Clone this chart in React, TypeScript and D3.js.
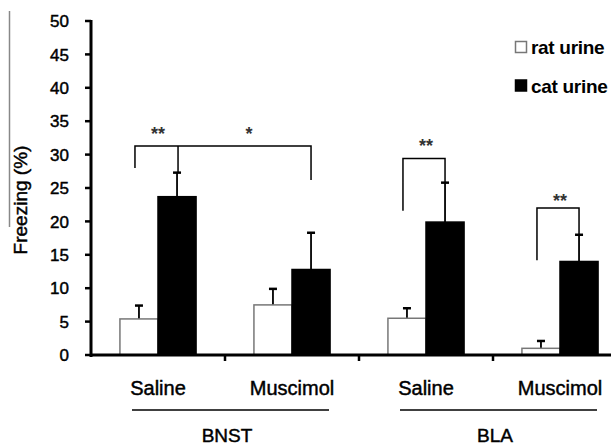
import React from 'react';
import * as d3 from 'd3';

const groups = ['BNST-Saline', 'BNST-Muscimol', 'BLA-Saline', 'BLA-Muscimol'];
const groupLabels = ['Saline', 'Muscimol', 'Saline', 'Muscimol'];
const series = ['rat urine', 'cat urine'];
const ratMeans = [5.4, 7.5, 5.5, 1.0];
const ratErrors = [2.0, 2.4, 1.5, 1.1];
const catMeans = [23.7, 12.8, 19.9, 14.0];
const catErrors = [3.6, 5.5, 5.9, 4.0];
const yTicks = [0, 5, 10, 15, 20, 25, 30, 35, 40, 45, 50];
const regions = ['BNST', 'BLA'];

// significance brackets: [group, series] of each foot, top level and foot bottoms (in %)
const brackets = [
  { from: [0, 0], to: [1, 1], mid: [0, 1], top: 31.3, fromBottom: 28.0, toBottom: 26.2, midBottom: 27.3 },
  { from: [2, 0], to: [2, 1], top: 29.4, fromBottom: 21.6, toBottom: 25.8 },
  { from: [3, 0], to: [3, 1], top: 22.0, fromBottom: 14.2, toBottom: 18.0 },
];

const width = 611;
const height = 446;
const font = '"Liberation Sans", Arial, sans-serif';
// scanned figure: text looks a bit heavier than plain regular
const heavy = { stroke: '#000', strokeWidth: 0.45 };

export default function App() {
  const y = d3.scaleLinear().domain([0, 50]).range([355, 21]);
  const x0 = d3.scaleBand().domain(groups).range([91, 627]);
  const x1 = d3.scaleBand().domain(series).range([0, x0.bandwidth()]).paddingOuter(0.76);
  const bw = x1.bandwidth();

  const cx = (g: number, s: number) => (x0(groups[g]) as number) + (x1(series[s]) as number) + bw / 2;
  const capW = 8;

  const bars: any[] = [];
  groups.forEach((g, i) => {
    bars.push({ g: i, s: 0, v: ratMeans[i], e: ratErrors[i] });
    bars.push({ g: i, s: 1, v: catMeans[i], e: catErrors[i] });
  });

  return (
    <svg width={width} height={height} style={{ position: 'absolute', left: 0, top: 0, background: '#fff' }}>
      <line x1={9.5} x2={9.5} y1={11} y2={227} stroke="#888" strokeWidth={1.5} />
      <text transform={`translate(27,200) rotate(-90)`} textAnchor="middle" fontFamily={font} fontSize={19} fill="#000" {...heavy}>
        Freezing (%)
      </text>

      {bars.map((b, i) => {
        const left = cx(b.g, b.s) - bw / 2;
        return (
          <g key={i}>
            <line x1={cx(b.g, b.s)} x2={cx(b.g, b.s)} y1={y(b.v)} y2={y(b.v + b.e)} stroke="#000" strokeWidth={1.8} />
            <line x1={cx(b.g, b.s) - capW / 2} x2={cx(b.g, b.s) + capW / 2} y1={y(b.v + b.e)} y2={y(b.v + b.e)} stroke="#000" strokeWidth={2.5} />
            <rect
              x={left}
              y={y(b.v)}
              width={bw}
              height={y(0) - y(b.v)}
              fill={b.s === 0 ? '#fff' : '#000'}
              stroke={b.s === 0 ? '#777' : '#000'}
              strokeWidth={1.5}
            />
          </g>
        );
      })}

      {/* brackets */}
      {brackets.map((br, i) => {
        const xa = cx(br.from[0], br.from[1]) - 4;
        const xb = cx(br.to[0], br.to[1]);
        const yt = y(br.top);
        return (
          <g key={i} stroke="#000" strokeWidth={1.5} fill="none">
            <path d={`M${xa},${y(br.fromBottom)}V${yt}H${xb}V${y(br.toBottom)}`} />
            {br.mid && (
              <line x1={cx(br.mid[0], br.mid[1]) + 1} x2={cx(br.mid[0], br.mid[1]) + 1} y1={yt} y2={y(br.midBottom as number)} />
            )}
          </g>
        );
      })}
      <g fontFamily={font} fontSize={18} fontWeight="bold" textAnchor="middle" fill="#333">
        <text x={(cx(0, 0) + cx(0, 1)) / 2} y={140}>**</text>
        <text x={(cx(0, 1) + cx(1, 1)) / 2 + 5} y={140}>*</text>
        <text x={(cx(2, 0) + cx(2, 1)) / 2} y={152}>**</text>
        <text x={(cx(3, 0) + cx(3, 1)) / 2} y={207}>**</text>
      </g>

      {/* y axis */}
      <line x1={91} x2={91} y1={y(50) - 1} y2={y(0) + 2} stroke="#000" strokeWidth={3} />
      {yTicks.map(t => (
        <g key={t}>
          <line x1={85} x2={91} y1={y(t)} y2={y(t)} stroke="#000" strokeWidth={2.5} />
          <text x={69} y={y(t)} dy="0.36em" textAnchor="end" fontFamily={font} fontSize={17} fill="#000" {...heavy}>{t}</text>
        </g>
      ))}

      {/* x axis */}
      <line x1={90} x2={611} y1={y(0)} y2={y(0)} stroke="#000" strokeWidth={3} />
      {groups.slice(1).map(g => (
        <line key={g} x1={x0(g) as number} x2={x0(g) as number} y1={y(0)} y2={y(0) + 6} stroke="#000" strokeWidth={2.5} />
      ))}
      {groups.map((g, i) => (
        <text key={g} x={(x0(g) as number) + x0.bandwidth() / 2} y={395} textAnchor="middle" fontFamily={font} fontSize={20} fill="#000" {...heavy}>
          {groupLabels[i]}
        </text>
      ))}
      {regions.map((r, i) => {
        const a = cx(i * 2, 0);
        const b = cx(i * 2 + 1, 1);
        return (
          <g key={r}>
            <line x1={a - 7} x2={b + 18} y1={410} y2={410} stroke="#000" strokeWidth={1.5} />
            <text x={(a + b) / 2 + 2} y={441.5} textAnchor="middle" fontFamily={font} fontSize={19} fill="#000" {...heavy}>{r}</text>
          </g>
        );
      })}

      {/* legend */}
      {series.map((s, i) => (
        <g key={s} transform={`translate(515,${41 + i * 38.5})`}>
          <rect x={0.5} y={0.5} width={11} height={11} fill={i === 0 ? '#fff' : '#000'} stroke={i === 0 ? '#777' : '#000'} strokeWidth={1.5} />
          <text x={16} y={13} fontFamily={font} fontSize={19} fontWeight="bold" letterSpacing={-0.3} fill="#000">{s}</text>
        </g>
      ))}
    </svg>
  );
}
